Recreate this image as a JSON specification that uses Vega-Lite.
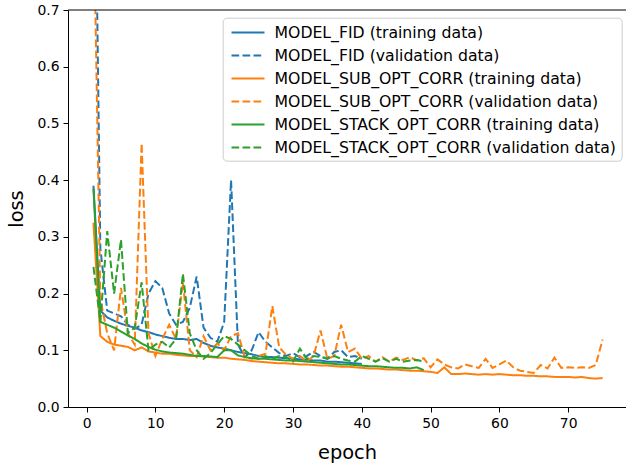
{
 "$schema": "https://vega.github.io/schema/vega-lite/v6.json",
 "width": 558, "height": 397,
 "autosize": {"type": "none"},
 "padding": {"left": 68, "top": 10, "right": 0, "bottom": 59},
 "background": "white",
 "config": {
  "view": {"stroke": null},
  "font": "DejaVu Sans",
  "axis": {"domainColor": "#000", "domainWidth": 1, "tickColor": "#000", "tickWidth": 1, "tickSize": 5, "labelColor": "#000", "titleColor": "#000", "labelFont": "DejaVu Sans", "titleFont": "DejaVu Sans", "labelFontSize": 13.9, "titleFontSize": 19.4, "titleFontWeight": "normal", "labelPadding": 4, "grid": false},
  "legend": {"title": null, "orient": "none", "legendX": 154.7, "legendY": 7.7, "symbolType": "M-2,0H2", "symbolSize": 272.25, "symbolOffset": 10.5, "symbolStrokeWidth": 2, "labelFontSize": 15.7, "labelFont": "DejaVu Sans", "labelColor": "#000", "labelOffset": 17, "labelLimit": 0, "fillColor": "rgba(255,255,255,0.8)", "strokeColor": "#cccccc", "cornerRadius": 4, "padding": 5.3, "rowPadding": 5}
 },
 "data": {"values": [
  {"e":1,"l":0.39,"s":"a"},{"e":2,"l":0.17,"s":"a"},{"e":3,"l":0.158,"s":"a"},{"e":4,"l":0.152,"s":"a"},{"e":5,"l":0.147,"s":"a"},{"e":6,"l":0.143,"s":"a"},{"e":7,"l":0.14,"s":"a"},{"e":8,"l":0.135,"s":"a"},{"e":9,"l":0.132,"s":"a"},{"e":10,"l":0.128,"s":"a"},{"e":11,"l":0.125,"s":"a"},{"e":12,"l":0.122,"s":"a"},{"e":13,"l":0.12,"s":"a"},{"e":14,"l":0.12,"s":"a"},{"e":15,"l":0.118,"s":"a"},{"e":16,"l":0.12,"s":"a"},{"e":17,"l":0.113,"s":"a"},{"e":18,"l":0.108,"s":"a"},{"e":19,"l":0.105,"s":"a"},{"e":20,"l":0.103,"s":"a"},{"e":21,"l":0.1,"s":"a"},{"e":22,"l":0.097,"s":"a"},{"e":23,"l":0.095,"s":"a"},{"e":24,"l":0.093,"s":"a"},{"e":25,"l":0.09,"s":"a"},{"e":26,"l":0.088,"s":"a"},{"e":27,"l":0.088,"s":"a"},{"e":28,"l":0.087,"s":"a"},{"e":29,"l":0.086,"s":"a"},{"e":30,"l":0.085,"s":"a"},{"e":31,"l":0.084,"s":"a"},{"e":32,"l":0.083,"s":"a"},{"e":33,"l":0.082,"s":"a"},{"e":34,"l":0.082,"s":"a"},{"e":35,"l":0.08,"s":"a"},{"e":36,"l":0.08,"s":"a"},{"e":37,"l":0.079,"s":"a"},{"e":38,"l":0.078,"s":"a"},{"e":39,"l":0.077,"s":"a"},{"e":40,"l":0.076,"s":"a"},
  {"e":1,"l":1.2,"s":"b"},{"e":2,"l":0.28,"s":"b"},{"e":3,"l":0.17,"s":"b"},{"e":4,"l":0.165,"s":"b"},{"e":5,"l":0.16,"s":"b"},{"e":6,"l":0.145,"s":"b"},{"e":7,"l":0.138,"s":"b"},{"e":8,"l":0.145,"s":"b"},{"e":9,"l":0.2,"s":"b"},{"e":10,"l":0.222,"s":"b"},{"e":11,"l":0.21,"s":"b"},{"e":12,"l":0.165,"s":"b"},{"e":13,"l":0.145,"s":"b"},{"e":14,"l":0.15,"s":"b"},{"e":15,"l":0.175,"s":"b"},{"e":16,"l":0.23,"s":"b"},{"e":17,"l":0.14,"s":"b"},{"e":18,"l":0.122,"s":"b"},{"e":19,"l":0.115,"s":"b"},{"e":20,"l":0.15,"s":"b"},{"e":21,"l":0.4,"s":"b"},{"e":22,"l":0.11,"s":"b"},{"e":23,"l":0.088,"s":"b"},{"e":24,"l":0.1,"s":"b"},{"e":25,"l":0.132,"s":"b"},{"e":26,"l":0.115,"s":"b"},{"e":27,"l":0.105,"s":"b"},{"e":28,"l":0.095,"s":"b"},{"e":29,"l":0.09,"s":"b"},{"e":30,"l":0.095,"s":"b"},{"e":31,"l":0.088,"s":"b"},{"e":32,"l":0.09,"s":"b"},{"e":33,"l":0.097,"s":"b"},{"e":34,"l":0.09,"s":"b"},{"e":35,"l":0.085,"s":"b"},{"e":36,"l":0.097,"s":"b"},{"e":37,"l":0.1,"s":"b"},{"e":38,"l":0.088,"s":"b"},{"e":39,"l":0.09,"s":"b"},{"e":40,"l":0.085,"s":"b"},
  {"e":1,"l":0.325,"s":"c"},{"e":2,"l":0.125,"s":"c"},{"e":3,"l":0.115,"s":"c"},{"e":4,"l":0.11,"s":"c"},{"e":5,"l":0.108,"s":"c"},{"e":6,"l":0.106,"s":"c"},{"e":7,"l":0.1,"s":"c"},{"e":8,"l":0.105,"s":"c"},{"e":9,"l":0.098,"s":"c"},{"e":10,"l":0.096,"s":"c"},{"e":11,"l":0.094,"s":"c"},{"e":12,"l":0.094,"s":"c"},{"e":13,"l":0.092,"s":"c"},{"e":14,"l":0.091,"s":"c"},{"e":15,"l":0.09,"s":"c"},{"e":16,"l":0.09,"s":"c"},{"e":17,"l":0.089,"s":"c"},{"e":18,"l":0.088,"s":"c"},{"e":19,"l":0.087,"s":"c"},{"e":20,"l":0.087,"s":"c"},{"e":21,"l":0.085,"s":"c"},{"e":22,"l":0.084,"s":"c"},{"e":23,"l":0.083,"s":"c"},{"e":24,"l":0.081,"s":"c"},{"e":25,"l":0.08,"s":"c"},{"e":26,"l":0.079,"s":"c"},{"e":27,"l":0.078,"s":"c"},{"e":28,"l":0.077,"s":"c"},{"e":29,"l":0.077,"s":"c"},{"e":30,"l":0.076,"s":"c"},{"e":31,"l":0.075,"s":"c"},{"e":32,"l":0.075,"s":"c"},{"e":33,"l":0.074,"s":"c"},{"e":34,"l":0.073,"s":"c"},{"e":35,"l":0.073,"s":"c"},{"e":36,"l":0.072,"s":"c"},{"e":37,"l":0.071,"s":"c"},{"e":38,"l":0.071,"s":"c"},{"e":39,"l":0.07,"s":"c"},{"e":40,"l":0.069,"s":"c"},{"e":41,"l":0.068,"s":"c"},{"e":42,"l":0.068,"s":"c"},{"e":43,"l":0.067,"s":"c"},{"e":44,"l":0.066,"s":"c"},{"e":45,"l":0.066,"s":"c"},{"e":46,"l":0.065,"s":"c"},{"e":47,"l":0.064,"s":"c"},{"e":48,"l":0.064,"s":"c"},{"e":49,"l":0.063,"s":"c"},{"e":50,"l":0.062,"s":"c"},{"e":51,"l":0.06,"s":"c"},{"e":52,"l":0.07,"s":"c"},{"e":53,"l":0.058,"s":"c"},{"e":54,"l":0.058,"s":"c"},{"e":55,"l":0.059,"s":"c"},{"e":56,"l":0.058,"s":"c"},{"e":57,"l":0.057,"s":"c"},{"e":58,"l":0.058,"s":"c"},{"e":59,"l":0.057,"s":"c"},{"e":60,"l":0.058,"s":"c"},{"e":61,"l":0.057,"s":"c"},{"e":62,"l":0.056,"s":"c"},{"e":63,"l":0.056,"s":"c"},{"e":64,"l":0.055,"s":"c"},{"e":65,"l":0.055,"s":"c"},{"e":66,"l":0.054,"s":"c"},{"e":67,"l":0.054,"s":"c"},{"e":68,"l":0.053,"s":"c"},{"e":69,"l":0.053,"s":"c"},{"e":70,"l":0.053,"s":"c"},{"e":71,"l":0.052,"s":"c"},{"e":72,"l":0.053,"s":"c"},{"e":73,"l":0.051,"s":"c"},{"e":74,"l":0.05,"s":"c"},{"e":75,"l":0.051,"s":"c"},
  {"e":1,"l":0.9,"s":"d"},{"e":2,"l":0.19,"s":"d"},{"e":3,"l":0.13,"s":"d"},{"e":4,"l":0.1,"s":"d"},{"e":5,"l":0.21,"s":"d"},{"e":6,"l":0.13,"s":"d"},{"e":7,"l":0.11,"s":"d"},{"e":8,"l":0.465,"s":"d"},{"e":9,"l":0.13,"s":"d"},{"e":10,"l":0.09,"s":"d"},{"e":11,"l":0.12,"s":"d"},{"e":12,"l":0.145,"s":"d"},{"e":13,"l":0.12,"s":"d"},{"e":14,"l":0.22,"s":"d"},{"e":15,"l":0.1,"s":"d"},{"e":16,"l":0.088,"s":"d"},{"e":17,"l":0.125,"s":"d"},{"e":18,"l":0.1,"s":"d"},{"e":19,"l":0.112,"s":"d"},{"e":20,"l":0.1,"s":"d"},{"e":21,"l":0.125,"s":"d"},{"e":22,"l":0.13,"s":"d"},{"e":23,"l":0.088,"s":"d"},{"e":24,"l":0.085,"s":"d"},{"e":25,"l":0.09,"s":"d"},{"e":26,"l":0.094,"s":"d"},{"e":27,"l":0.178,"s":"d"},{"e":28,"l":0.105,"s":"d"},{"e":29,"l":0.092,"s":"d"},{"e":30,"l":0.085,"s":"d"},{"e":31,"l":0.09,"s":"d"},{"e":32,"l":0.08,"s":"d"},{"e":33,"l":0.09,"s":"d"},{"e":34,"l":0.135,"s":"d"},{"e":35,"l":0.085,"s":"d"},{"e":36,"l":0.09,"s":"d"},{"e":37,"l":0.145,"s":"d"},{"e":38,"l":0.097,"s":"d"},{"e":39,"l":0.103,"s":"d"},{"e":40,"l":0.085,"s":"d"},{"e":41,"l":0.09,"s":"d"},{"e":42,"l":0.08,"s":"d"},{"e":43,"l":0.088,"s":"d"},{"e":44,"l":0.08,"s":"d"},{"e":45,"l":0.087,"s":"d"},{"e":46,"l":0.083,"s":"d"},{"e":47,"l":0.088,"s":"d"},{"e":48,"l":0.082,"s":"d"},{"e":49,"l":0.086,"s":"d"},{"e":50,"l":0.07,"s":"d"},{"e":51,"l":0.084,"s":"d"},{"e":52,"l":0.075,"s":"d"},{"e":53,"l":0.07,"s":"d"},{"e":54,"l":0.068,"s":"d"},{"e":55,"l":0.075,"s":"d"},{"e":56,"l":0.072,"s":"d"},{"e":57,"l":0.069,"s":"d"},{"e":58,"l":0.085,"s":"d"},{"e":59,"l":0.069,"s":"d"},{"e":60,"l":0.075,"s":"d"},{"e":61,"l":0.082,"s":"d"},{"e":62,"l":0.07,"s":"d"},{"e":63,"l":0.064,"s":"d"},{"e":64,"l":0.062,"s":"d"},{"e":65,"l":0.06,"s":"d"},{"e":66,"l":0.074,"s":"d"},{"e":67,"l":0.068,"s":"d"},{"e":68,"l":0.087,"s":"d"},{"e":69,"l":0.069,"s":"d"},{"e":70,"l":0.07,"s":"d"},{"e":71,"l":0.069,"s":"d"},{"e":72,"l":0.07,"s":"d"},{"e":73,"l":0.069,"s":"d"},{"e":74,"l":0.074,"s":"d"},{"e":75,"l":0.119,"s":"d"},
  {"e":1,"l":0.385,"s":"e"},{"e":2,"l":0.15,"s":"e"},{"e":3,"l":0.145,"s":"e"},{"e":4,"l":0.14,"s":"e"},{"e":5,"l":0.133,"s":"e"},{"e":6,"l":0.126,"s":"e"},{"e":7,"l":0.12,"s":"e"},{"e":8,"l":0.112,"s":"e"},{"e":9,"l":0.106,"s":"e"},{"e":10,"l":0.101,"s":"e"},{"e":11,"l":0.098,"s":"e"},{"e":12,"l":0.096,"s":"e"},{"e":13,"l":0.095,"s":"e"},{"e":14,"l":0.094,"s":"e"},{"e":15,"l":0.092,"s":"e"},{"e":16,"l":0.09,"s":"e"},{"e":17,"l":0.09,"s":"e"},{"e":18,"l":0.089,"s":"e"},{"e":19,"l":0.088,"s":"e"},{"e":20,"l":0.1,"s":"e"},{"e":21,"l":0.1,"s":"e"},{"e":22,"l":0.091,"s":"e"},{"e":23,"l":0.088,"s":"e"},{"e":24,"l":0.086,"s":"e"},{"e":25,"l":0.085,"s":"e"},{"e":26,"l":0.085,"s":"e"},{"e":27,"l":0.084,"s":"e"},{"e":28,"l":0.083,"s":"e"},{"e":29,"l":0.082,"s":"e"},{"e":30,"l":0.082,"s":"e"},{"e":31,"l":0.081,"s":"e"},{"e":32,"l":0.08,"s":"e"},{"e":33,"l":0.079,"s":"e"},{"e":34,"l":0.078,"s":"e"},{"e":35,"l":0.077,"s":"e"},{"e":36,"l":0.076,"s":"e"},{"e":37,"l":0.075,"s":"e"},{"e":38,"l":0.075,"s":"e"},{"e":39,"l":0.074,"s":"e"},{"e":40,"l":0.073,"s":"e"},{"e":41,"l":0.072,"s":"e"},{"e":42,"l":0.072,"s":"e"},{"e":43,"l":0.071,"s":"e"},{"e":44,"l":0.07,"s":"e"},{"e":45,"l":0.069,"s":"e"},{"e":46,"l":0.069,"s":"e"},{"e":47,"l":0.068,"s":"e"},{"e":48,"l":0.07,"s":"e"},{"e":49,"l":0.065,"s":"e"},
  {"e":1,"l":0.247,"s":"f"},{"e":2,"l":0.15,"s":"f"},{"e":3,"l":0.31,"s":"f"},{"e":4,"l":0.2,"s":"f"},{"e":5,"l":0.295,"s":"f"},{"e":6,"l":0.13,"s":"f"},{"e":7,"l":0.14,"s":"f"},{"e":8,"l":0.22,"s":"f"},{"e":9,"l":0.1,"s":"f"},{"e":10,"l":0.11,"s":"f"},{"e":11,"l":0.115,"s":"f"},{"e":12,"l":0.105,"s":"f"},{"e":13,"l":0.12,"s":"f"},{"e":14,"l":0.235,"s":"f"},{"e":15,"l":0.13,"s":"f"},{"e":16,"l":0.1,"s":"f"},{"e":17,"l":0.085,"s":"f"},{"e":18,"l":0.095,"s":"f"},{"e":19,"l":0.11,"s":"f"},{"e":20,"l":0.125,"s":"f"},{"e":21,"l":0.12,"s":"f"},{"e":22,"l":0.11,"s":"f"},{"e":23,"l":0.1,"s":"f"},{"e":24,"l":0.09,"s":"f"},{"e":25,"l":0.085,"s":"f"},{"e":26,"l":0.09,"s":"f"},{"e":27,"l":0.085,"s":"f"},{"e":28,"l":0.09,"s":"f"},{"e":29,"l":0.088,"s":"f"},{"e":30,"l":0.08,"s":"f"},{"e":31,"l":0.103,"s":"f"},{"e":32,"l":0.085,"s":"f"},{"e":33,"l":0.09,"s":"f"},{"e":34,"l":0.088,"s":"f"},{"e":35,"l":0.085,"s":"f"},{"e":36,"l":0.09,"s":"f"},{"e":37,"l":0.085,"s":"f"},{"e":38,"l":0.082,"s":"f"},{"e":39,"l":0.08,"s":"f"},{"e":40,"l":0.09,"s":"f"},{"e":41,"l":0.085,"s":"f"},{"e":42,"l":0.08,"s":"f"},{"e":43,"l":0.086,"s":"f"},{"e":44,"l":0.08,"s":"f"},{"e":45,"l":0.085,"s":"f"},{"e":46,"l":0.08,"s":"f"},{"e":47,"l":0.082,"s":"f"},{"e":48,"l":0.083,"s":"f"},{"e":49,"l":0.08,"s":"f"}
 ]},
 "layer": [
  {
   "mark": {"type": "line", "strokeWidth": 2, "clip": true},
   "encoding": {
    "x": {"field": "e", "type": "quantitative", "scale": {"domain": [-2.7, 78.4], "nice": false, "zero": false},
          "axis": {"values": [0,10,20,30,40,50,60,70], "title": "epoch", "titlePadding": 14}},
    "y": {"field": "l", "type": "quantitative", "scale": {"domain": [0, 0.7], "nice": false},
          "axis": {"values": [0,0.1,0.2,0.3,0.4,0.5,0.6,0.7], "format": ".1f", "title": "loss", "titlePadding": 10}},
    "color": {"field": "s", "type": "nominal",
      "scale": {"domain": ["a","b","c","d","e","f"], "range": ["#1f77b4","#1f77b4","#ff7f0e","#ff7f0e","#2ca02c","#2ca02c"]},
      "legend": {"labelExpr": "{'a':'MODEL_FID (training data)','b':'MODEL_FID (validation data)','c':'MODEL_SUB_OPT_CORR (training data)','d':'MODEL_SUB_OPT_CORR (validation data)','e':'MODEL_STACK_OPT_CORR (training data)','f':'MODEL_STACK_OPT_CORR (validation data)'}[datum.label]"}},
    "strokeDash": {"field": "s", "type": "nominal",
      "scale": {"domain": ["a","b","c","d","e","f"], "range": [[1,0],[7.7,3.3],[1,0],[7.7,3.3],[1,0],[7.7,3.3]]},
      "legend": {"labelExpr": "{'a':'MODEL_FID (training data)','b':'MODEL_FID (validation data)','c':'MODEL_SUB_OPT_CORR (training data)','d':'MODEL_SUB_OPT_CORR (validation data)','e':'MODEL_STACK_OPT_CORR (training data)','f':'MODEL_STACK_OPT_CORR (validation data)'}[datum.label]"}}
   }
  },
  {
   "data": {"values": [{}]},
   "mark": {"type": "rule", "color": "#000", "strokeWidth": 1},
   "encoding": {"y": {"datum": 0.7}}
  }
 ]
}
